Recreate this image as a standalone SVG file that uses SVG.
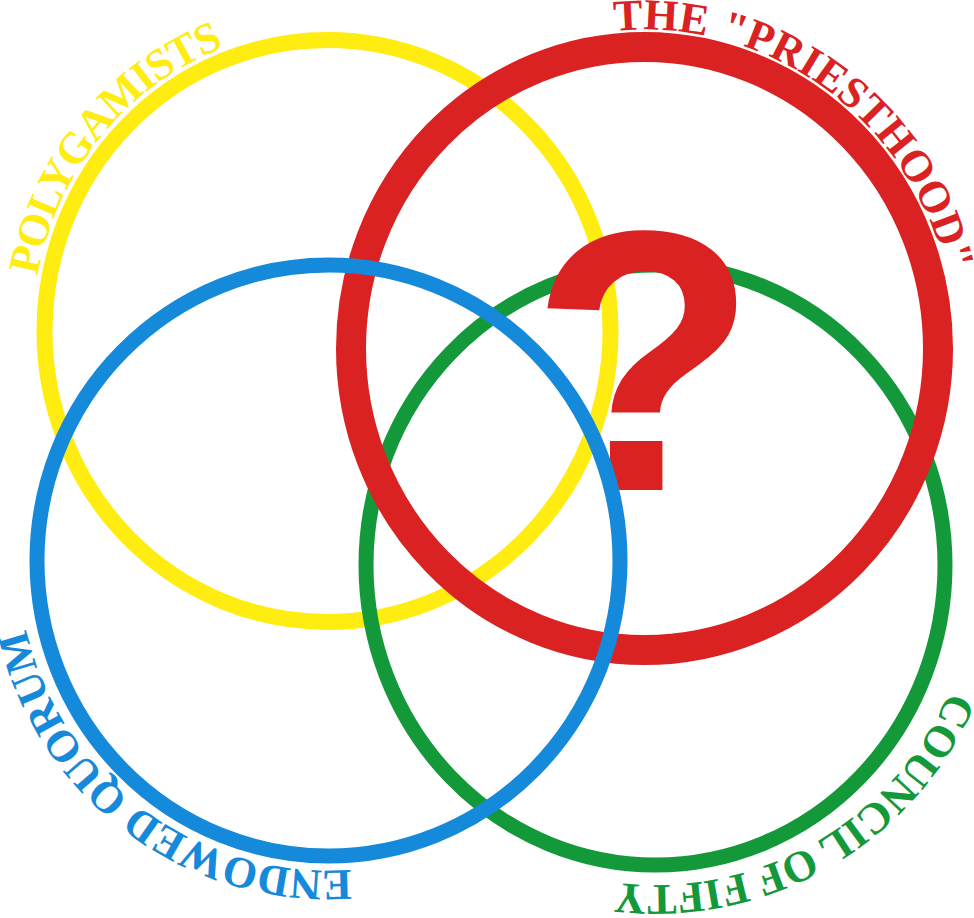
<svg xmlns="http://www.w3.org/2000/svg" width="974" height="918" viewBox="0 0 974 918">
<style>
ellipse.ring{fill:none}
.lbl{font-family:"Liberation Serif","Times New Roman",serif;font-weight:bold;font-size:44px;stroke:none}
ellipse.y{stroke:#FFEC10}
ellipse.r{stroke:#DB2222}
ellipse.g{stroke:#14993A}
ellipse.b{stroke:#1589DA}
text.y{fill:#FFEC10}
text.r{fill:#DB2222}
text.g{fill:#14993A}
text.b{fill:#1589DA}
</style>
<defs>
<path id="pY" d="M37.5,275.8 A295,303 0 0 1 276.3,32.6"/>
<path id="pR" d="M614.1,31 A311,319 0 0 1 954.3,320.7"/>
<path id="pB" d="M351.2,869.7 A310,310 0 0 1 19.7,587.5"/>
<path id="pG" d="M949.6,691 A320,320 0 0 1 572.7,874.1"/>
</defs>
<rect width="974" height="918" fill="#fff"/>
<g id="polygamists">
<ellipse class="ring y" cx="327.5" cy="331" rx="283" ry="291" stroke-width="16"/>
<text class="lbl y" letter-spacing="-1.3"><textPath href="#pY">POLYGAMISTS</textPath></text>
</g>
<g id="council">
<ellipse class="ring g" cx="655.5" cy="565" rx="289.5" ry="300" stroke-width="15"/>
<text class="lbl g" letter-spacing="-0.4"><textPath href="#pG">COUNCIL OF FIFTY</textPath></text>
</g>
<g id="priesthood">
<ellipse class="ring r" cx="644.5" cy="348.5" rx="293.5" ry="301.5" stroke-width="30"/>
<text class="lbl r" word-spacing="2"><textPath href="#pR">THE "PRIESTHOOD"</textPath></text>
<text x="644" y="490" text-anchor="middle" fill="#DB2222" style="font-family:'Liberation Sans',Arial,sans-serif;font-weight:bold;font-size:372px">?</text>
</g>
<g id="endowed">
<ellipse class="ring b" cx="328.5" cy="560.5" rx="291.5" ry="295.5" stroke-width="15"/>
<text class="lbl b" letter-spacing="-0.6"><textPath href="#pB">ENDOWED QUORUM</textPath></text>
</g>
<g id="connectors"/>
</svg>
